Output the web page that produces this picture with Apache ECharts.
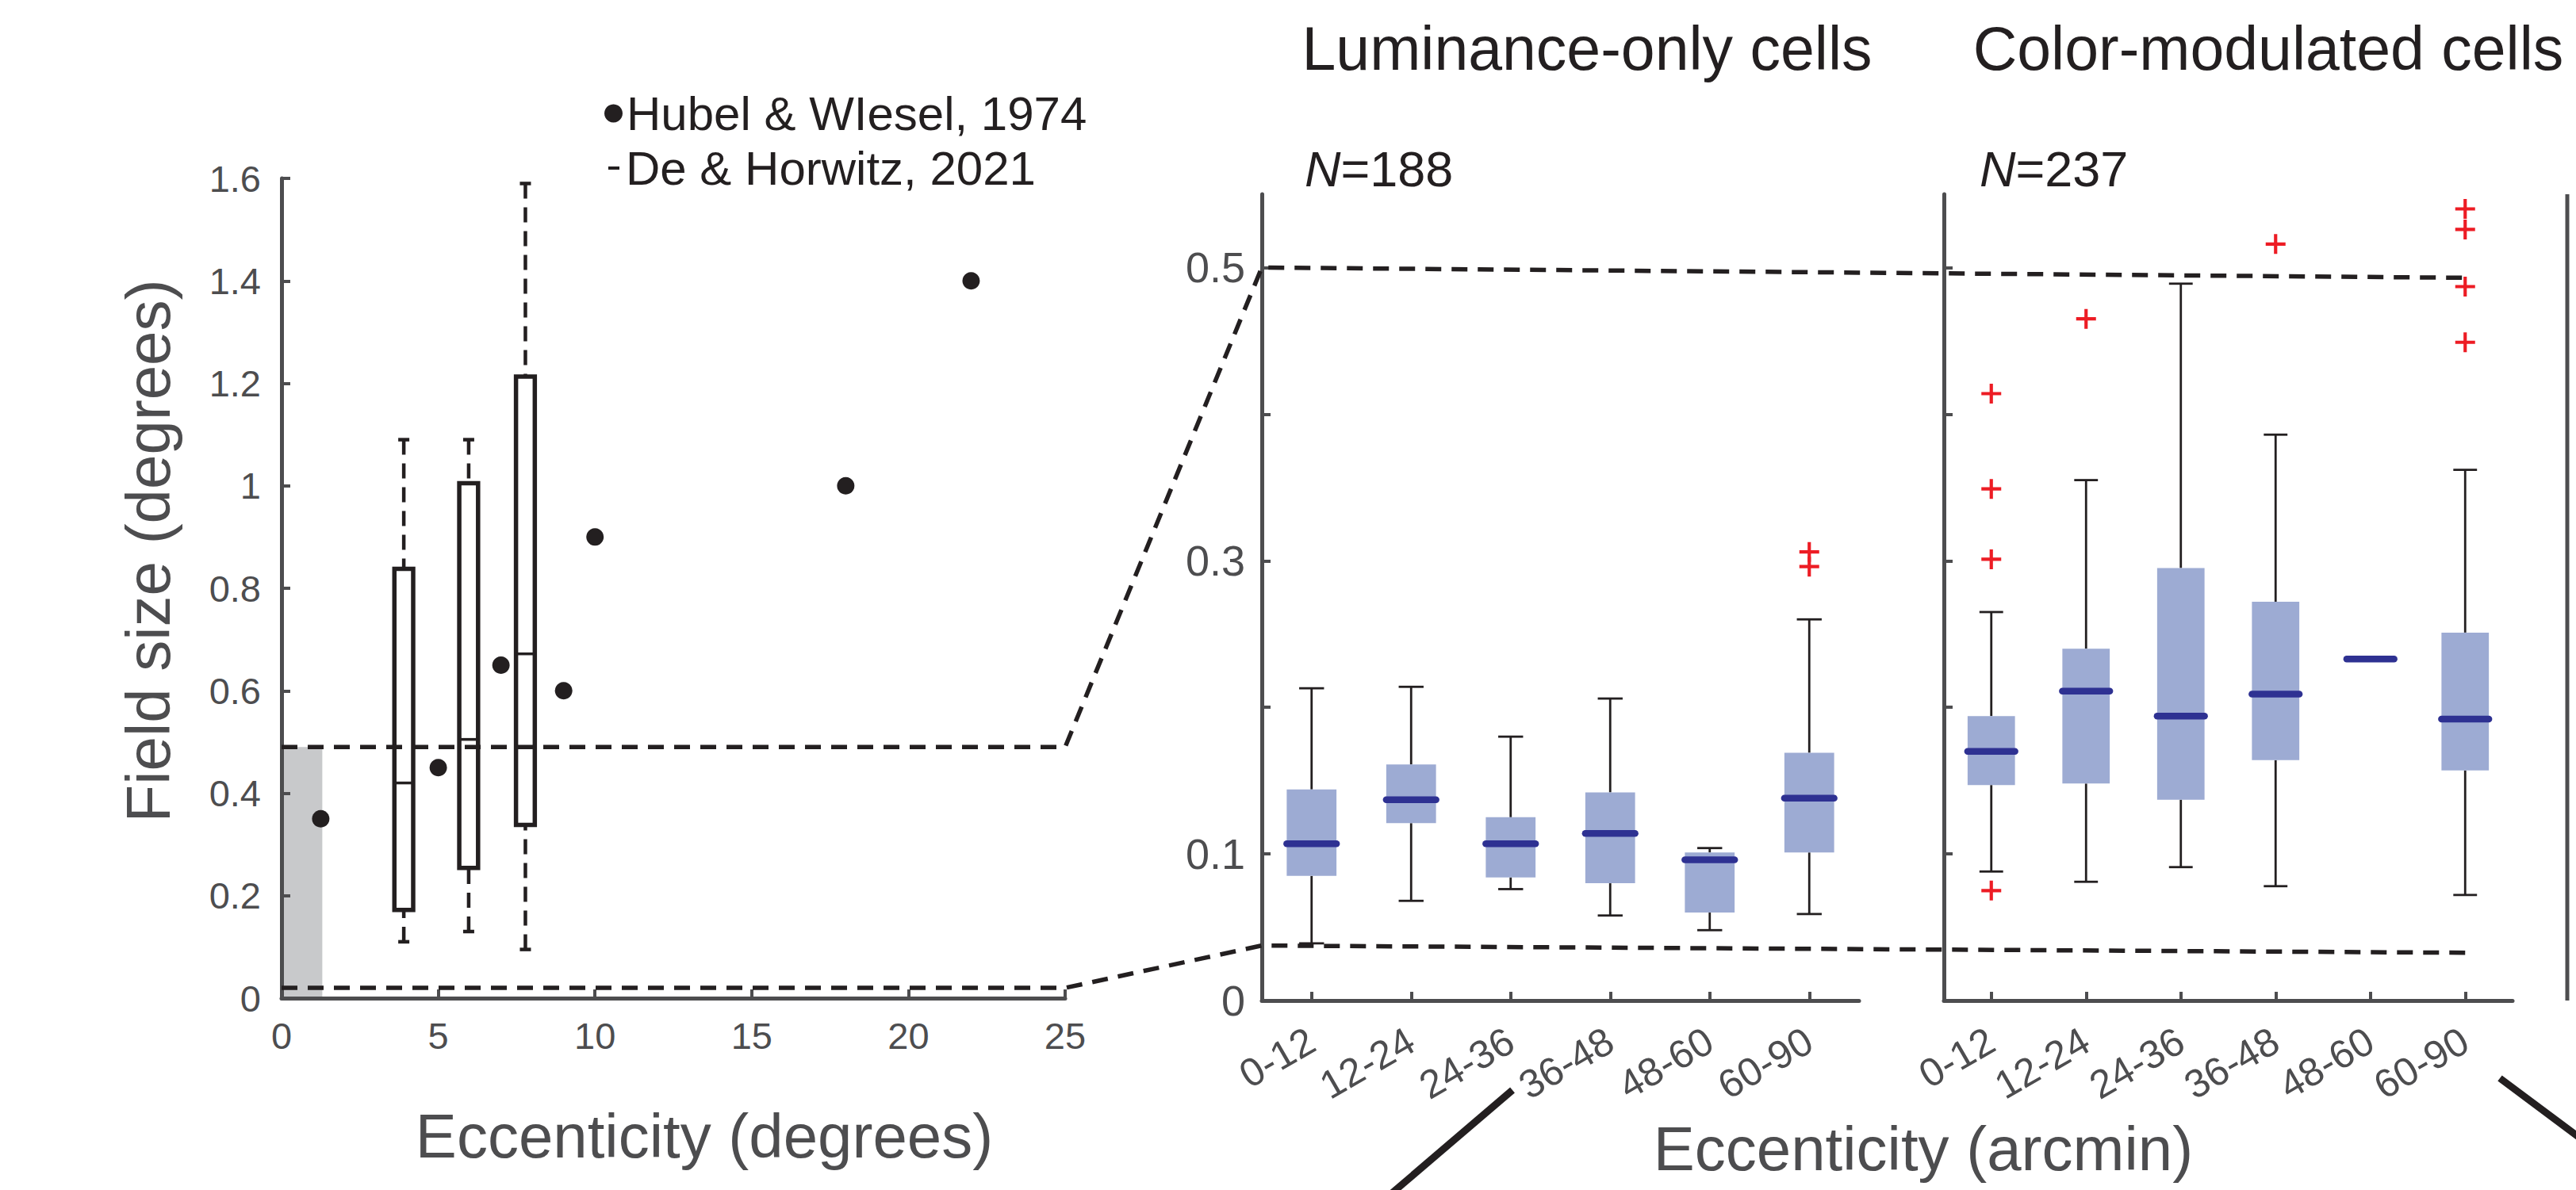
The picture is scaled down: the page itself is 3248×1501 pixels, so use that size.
<!DOCTYPE html>
<html>
<head>
<meta charset="utf-8">
<script src="https://cdn.jsdelivr.net/npm/echarts@6/dist/echarts.min.js"></script>
<style>html,body{margin:0;padding:0;background:#fff;}#c{width:3248px;height:1501px;}</style>
</head>
<body>
<div id="c"></div>
<script>
// ---------------- data ----------------
// Left panel: receptive field size vs eccentricity (degrees)
const hwEcc  = [1.25, 5, 7, 9, 10, 18, 22];
const hwSize = [0.35, 0.45, 0.65, 0.6, 0.9, 1.0, 1.4];
const dhEcc = [3.9, 5.97, 7.78];
const dhMin = [0.11, 0.13, 0.095];
const dhQ1  = [0.172, 0.254, 0.338];
const dhMed = [0.42, 0.505, 0.672];
const dhQ3  = [0.838, 1.005, 1.213];
const dhMax = [1.09, 1.09, 1.59];
const shadedEcc  = [0, 1.3];
const shadedSize = [0, 0.49];
const bandSize = [0.02, 0.49];          // dashed zoom band (low, high)
const leftXTicks = [0, 5, 10, 15, 20, 25];
const leftYTicks = [0, 0.2, 0.4, 0.6, 0.8, 1, 1.2, 1.4, 1.6];

// Zoomed panels (arcmin bins)
const eccBins = ['0-12', '12-24', '24-36', '36-48', '48-60', '60-90'];
const zoomTicks  = [0.1, 0.2, 0.3, 0.4, 0.5];
const zoomLabels = [0, 0.1, 0.3, 0.5];
const zoomTop    = [0.5, 0.493];        // dashed line (start, end)
const zoomBottom = [0.0375, 0.0326];

const lumMin = [0.039, 0.068, 0.076, 0.058, 0.048, 0.059];
const lumQ1  = [0.085, 0.121, 0.084, 0.080, 0.060, 0.101];
const lumMed = [0.107, 0.137, 0.107, 0.114, 0.096, 0.138];
const lumQ3  = [0.144, 0.161, 0.125, 0.142, 0.101, 0.169];
const lumMax = [0.213, 0.214, 0.180, 0.206, 0.104, 0.260];
const lumOutBin = [5, 5];
const lumOutVal = [0.306, 0.296];

const colMin = [0.088, 0.081, 0.091, 0.078, 0.233, 0.072];
const colQ1  = [0.147, 0.148, 0.137, 0.164, 0.233, 0.157];
const colMed = [0.170, 0.211, 0.194, 0.209, 0.233, 0.192];
const colQ3  = [0.194, 0.240, 0.295, 0.272, 0.233, 0.251];
const colMax = [0.265, 0.355, 0.489, 0.386, 0.233, 0.362];
const colOutBin = [0, 0, 0, 0, 1, 3, 5, 5, 5, 5];
const colOutVal = [0.414, 0.349, 0.301, 0.075, 0.465, 0.516, 0.540, 0.526, 0.487, 0.449];

// ---------------- style ----------------
const FF = "'Liberation Sans', Arial, Helvetica, sans-serif";
const INK = '#231f20', AX = '#4d4d4f';
const BOX = '#9dabd3', MED = '#2e3192', OUT = '#ed1c24';
const G0 = {left: 355, top: 225, width: 988, height: 1034};
const G1 = {left: 1591, top: 245, width: 753, height: 1017};
const G2 = {left: 2451, top: 245, width: 717, height: 1017};

function leftBox(params, api) {
  const x = api.value(0);
  const p = [1, 2, 3, 4, 5].map(d => api.coord([x, api.value(d)]));
  const hw = api.size([0.3, 0])[0];
  const cx = p[0][0];
  const dash = {stroke: INK, lineWidth: 4.5, lineDash: [19, 11], fill: null};
  const solid = {stroke: INK, lineWidth: 4.5, fill: null};
  return {type: 'group', children: [
    {type: 'line', shape: {x1: cx, y1: p[4][1], x2: cx, y2: p[3][1]}, style: dash},
    {type: 'line', shape: {x1: cx, y1: p[0][1], x2: cx, y2: p[1][1]}, style: dash},
    {type: 'line', shape: {x1: cx - 7, y1: p[4][1], x2: cx + 7, y2: p[4][1]}, style: solid},
    {type: 'line', shape: {x1: cx - 7, y1: p[0][1], x2: cx + 7, y2: p[0][1]}, style: solid},
    {type: 'rect', shape: {x: cx - hw, y: p[3][1], width: 2 * hw, height: p[1][1] - p[3][1]},
      style: {fill: '#fff', stroke: INK, lineWidth: 5.5}},
    {type: 'line', shape: {x1: cx - hw, y1: p[2][1], x2: cx + hw, y2: p[2][1]}, style: {stroke: INK, lineWidth: 3.5}}
  ]};
}

function zoomBox(params, api) {
  const i = api.value(0);
  const band = api.size([1, 0])[0];
  const p = [1, 2, 3, 4, 5].map(d => api.coord([i, api.value(d)]));
  const cx = p[0][0], hb = band * 0.25, hc = band * 0.125;
  const ws = {stroke: INK, lineWidth: 2.8, fill: null};
  const ch = [];
  if (p[4][1] < p[3][1] - 0.5) {
    ch.push({type: 'line', shape: {x1: cx, y1: p[4][1], x2: cx, y2: p[3][1]}, style: ws});
    ch.push({type: 'line', shape: {x1: cx - hc, y1: p[4][1], x2: cx + hc, y2: p[4][1]}, style: ws});
  }
  if (p[0][1] > p[1][1] + 0.5) {
    ch.push({type: 'line', shape: {x1: cx, y1: p[0][1], x2: cx, y2: p[1][1]}, style: ws});
    ch.push({type: 'line', shape: {x1: cx - hc, y1: p[0][1], x2: cx + hc, y2: p[0][1]}, style: ws});
  }
  if (p[1][1] - p[3][1] > 0.5) {
    ch.push({type: 'rect', shape: {x: cx - hb, y: p[3][1], width: 2 * hb, height: p[1][1] - p[3][1]},
      style: {fill: BOX}});
  }
  ch.push({type: 'line', shape: {x1: cx - hb, y1: p[2][1], x2: cx + hb, y2: p[2][1]},
    style: {stroke: MED, lineWidth: 8.5, lineCap: 'round'}});
  return {type: 'group', children: ch};
}

const PLUS = 'path://M10,0H14V10H24V14H14V24H10V14H0V10H10Z';

function valueAxisCommon(extra) {
  return Object.assign({
    type: 'value',
    axisLine: {show: true, lineStyle: {color: AX, width: 5}},
    axisTick: {show: true, inside: true, length: 11, lineStyle: {color: AX, width: 4}},
    splitLine: {show: false},
    axisLabel: {color: AX, fontFamily: FF}
  }, extra);
}

function binAxis(gridIndex) {
  return {type: 'category', gridIndex: gridIndex, data: eccBins, boundaryGap: true,
    axisLine: {show: true, lineStyle: {color: AX, width: 5}},
    axisTick: {show: true, inside: true, alignWithLabel: true, length: 11, lineStyle: {color: AX, width: 4}},
    axisLabel: {interval: 0, rotate: 30, margin: 47, fontSize: 50, color: AX, fontFamily: FF},
    splitLine: {show: false}};
}

const chart = echarts.init(document.getElementById('c'), null, {renderer: 'svg'});

const option = {
  animation: false,
  backgroundColor: '#ffffff',
  textStyle: {fontFamily: FF},
  grid: [
    Object.assign({outerBoundsMode: 'none', containLabel: false}, G0),
    Object.assign({outerBoundsMode: 'none', containLabel: false}, G1),
    Object.assign({outerBoundsMode: 'none', containLabel: false}, G2)
  ],
  legend: [
    {data: ['Hubel & WIesel, 1974'], left: 762, top: 113, padding: 0, icon: 'circle',
      itemWidth: 23, itemHeight: 23, selectedMode: false,
      textStyle: {fontSize: 60, color: INK, fontFamily: FF}},
    {data: ['De & Horwitz, 2021'], left: 767, top: 182, padding: 0, icon: 'rect',
      itemWidth: 14, itemHeight: 4, selectedMode: false,
      textStyle: {fontSize: 60, color: INK, fontFamily: FF, padding: [0, 0, 0, 3]}}
  ],
  xAxis: [
    valueAxisCommon({gridIndex: 0, min: leftXTicks[0], max: leftXTicks[leftXTicks.length - 1],
      interval: leftXTicks[1] - leftXTicks[0], z: 10,
      axisLabel: {color: AX, fontFamily: FF, fontSize: 47, margin: 24}}),
    binAxis(1),
    binAxis(2)
  ],
  yAxis: [
    valueAxisCommon({gridIndex: 0, min: leftYTicks[0], max: leftYTicks[leftYTicks.length - 1],
      interval: leftYTicks[1] - leftYTicks[0], z: 10,
      axisLabel: {color: AX, fontFamily: FF, fontSize: 47, margin: 26}}),
    valueAxisCommon({gridIndex: 1, min: 0, max: 0.55,
      axisTick: {show: true, inside: true, length: 11, customValues: zoomTicks, lineStyle: {color: AX, width: 4}},
      axisLabel: {color: AX, fontFamily: FF, fontSize: 54, margin: 21, customValues: zoomLabels}}),
    valueAxisCommon({gridIndex: 2, min: 0, max: 0.55,
      axisTick: {show: true, inside: true, length: 11, customValues: zoomTicks, lineStyle: {color: AX, width: 4}},
      axisLabel: {show: false}})
  ],
  series: [
    {name: 'Hubel & WIesel, 1974', type: 'scatter', xAxisIndex: 0, yAxisIndex: 0,
      data: hwEcc.map((x, i) => [x, hwSize[i]]), symbolSize: 22, itemStyle: {color: INK, opacity: 1}, z: 5,
      markArea: {silent: true, itemStyle: {color: '#c8c9cb', opacity: 1},
        data: [[{coord: [shadedEcc[0], shadedSize[0]]}, {coord: [shadedEcc[1], shadedSize[1]]}]]}},
    {name: 'De & Horwitz, 2021', type: 'custom', xAxisIndex: 0, yAxisIndex: 0,
      renderItem: leftBox, itemStyle: {color: INK},
      dimensions: ['x', 'min', 'q1', 'med', 'q3', 'max'], encode: {x: 0, y: [1, 2, 3, 4, 5]},
      data: dhEcc.map((x, i) => [x, dhMin[i], dhQ1[i], dhMed[i], dhQ3[i], dhMax[i]]), z: 4},
    {name: 'Luminance-only', type: 'custom', xAxisIndex: 1, yAxisIndex: 1, renderItem: zoomBox,
      dimensions: ['bin', 'min', 'q1', 'med', 'q3', 'max'], encode: {x: 0, y: [1, 2, 3, 4, 5]},
      data: eccBins.map((b, i) => [i, lumMin[i], lumQ1[i], lumMed[i], lumQ3[i], lumMax[i]])},
    {name: 'Luminance-only outliers', type: 'scatter', xAxisIndex: 1, yAxisIndex: 1,
      symbol: PLUS, symbolSize: 25, itemStyle: {color: OUT, opacity: 1},
      data: lumOutBin.map((b, i) => [b, lumOutVal[i]])},
    {name: 'Color-modulated', type: 'custom', xAxisIndex: 2, yAxisIndex: 2, renderItem: zoomBox,
      dimensions: ['bin', 'min', 'q1', 'med', 'q3', 'max'], encode: {x: 0, y: [1, 2, 3, 4, 5]},
      data: eccBins.map((b, i) => [i, colMin[i], colQ1[i], colMed[i], colQ3[i], colMax[i]])},
    {name: 'Color-modulated outliers', type: 'scatter', xAxisIndex: 2, yAxisIndex: 2,
      symbol: PLUS, symbolSize: 25, itemStyle: {color: OUT, opacity: 1},
      data: colOutBin.map((b, i) => [b, colOutVal[i]])}
  ]
};
chart.setOption(option);

// ----- annotation lines computed through the chart's own scales -----
const pL = (x, y) => chart.convertToPixel({gridIndex: 0}, [x, y]);
const yM = v => chart.convertToPixel({gridIndex: 1}, [0, v])[1];
const pR = (i, v) => chart.convertToPixel({gridIndex: 2}, [i, v]);
const xMax = leftXTicks[leftXTicks.length - 1];
const lastBin = eccBins.length - 1;
const dashStyle = {stroke: INK, lineWidth: 5.5, lineDash: [20, 13], fill: null};

function txt(id, x, y, text, size, color, extra) {
  return Object.assign({type: 'text', id: id, x: x, y: y, z: 100, silent: true,
    style: {text: text, fontSize: size, fontFamily: FF, fill: color,
      align: 'center', verticalAlign: 'middle', textAlign: 'center', textVerticalAlign: 'middle'}}, extra || {});
}
function nText(id, x, y, n) {
  return {type: 'text', id: id, x: x, y: y, z: 100, silent: true,
    style: {text: '{i|N}{r|=' + n + '}', fontSize: 63, fontFamily: FF, fill: INK,
      align: 'left', verticalAlign: 'middle', textAlign: 'left', textVerticalAlign: 'middle',
      rich: {i: {fontStyle: 'italic', fontSize: 63, fontFamily: FF, fill: INK},
             r: {fontSize: 63, fontFamily: FF, fill: INK}}}};
}

chart.setOption({
  graphic: [
    {type: 'polyline', id: 'topDash', z: 50, silent: true,
      shape: {points: [pL(0, bandSize[1]), pL(xMax, bandSize[1]), [G1.left, yM(zoomTop[0])], pR(lastBin, zoomTop[1])]},
      style: dashStyle},
    {type: 'polyline', id: 'botDash', z: 50, silent: true,
      shape: {points: [pL(0, bandSize[0]), pL(xMax, bandSize[0]), [G1.left, yM(zoomBottom[0])], pR(lastBin, zoomBottom[1])]},
      style: dashStyle},
    // decorative pointers towards panels outside the crop
    {type: 'line', id: 'ptr1', z: 50, silent: true, shape: {x1: 1907, y1: 1375, x2: 1714, y2: 1540},
      style: {stroke: INK, lineWidth: 9}},
    {type: 'line', id: 'ptr2', z: 50, silent: true, shape: {x1: 3152, y1: 1360, x2: 3290, y2: 1463},
      style: {stroke: INK, lineWidth: 9}},
    {type: 'line', id: 'edgeAxis', z: 50, silent: true, shape: {x1: 3237, y1: 245, x2: 3237, y2: 1262},
      style: {stroke: AX, lineWidth: 5}},
    txt('t1', 2001, 61, 'Luminance-only cells', 77, INK),
    txt('t2', 2860, 61, 'Color-modulated cells', 77, INK),
    nText('n1', 1645, 213, 188),
    nText('n2', 2496, 213, 237),
    txt('yl', 187, 695, 'Field size (degrees)', 78, AX, {rotation: Math.PI / 2}),
    txt('xl1', 888, 1433, 'Eccenticity (degrees)', 78, AX),
    txt('xl2', 2425, 1449, 'Eccenticity (arcmin)', 78, AX)
  ]
});
</script>
</body>
</html>
